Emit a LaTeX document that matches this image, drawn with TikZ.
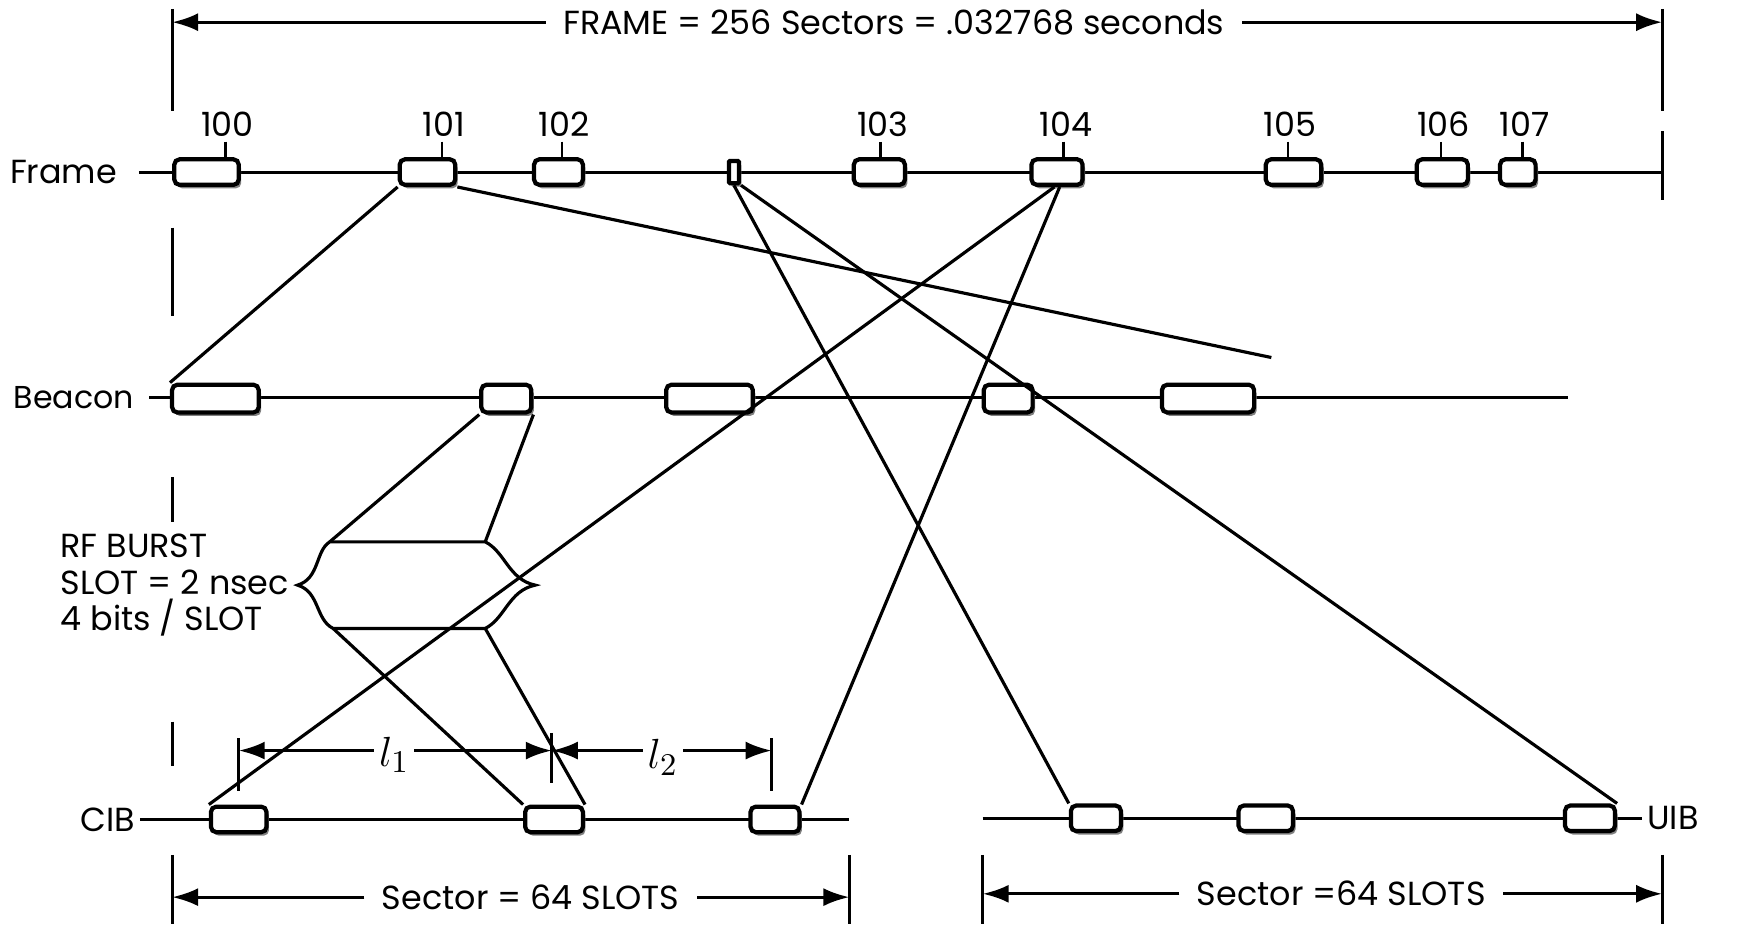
\documentclass[tikz,border=0pt]{standalone}
\usepackage{fontspec}
\setmainfont{Poppins}
\usetikzlibrary{arrows.meta,shadows}
\newcommand{\pxu}{0.11103mm}

\begin{document}
\begin{tikzpicture}[x=0.11103mm, y=-0.11103mm, line width=0.9pt, >={Latex[length=2.6mm,width=1.8mm]},
  font=\fontsize{9.5}{10.4}\selectfont,
  slotbox/.style={draw, line width=1.2pt, rounded corners=1.5pt, fill=white, inner sep=0pt, minimum width=#1*\pxu, minimum height=23*\pxu,
    drop shadow={opacity=1, shadow xshift=0.25mm, shadow yshift=-0.35mm}},
  tag/.style={inner sep=1pt},
  dimtxt/.style={inner xsep=1.6mm}]
\useasboundingbox (0,0) rectangle (1568,838);
% frame length
\node[dimtxt] (frametitle) at (805,20) {FRAME = 256 Sectors = .032768 seconds};
\coordinate (topL) at (155,20);
\coordinate (topR) at (1497,20);
\draw (155,8) -- (155,100);
\draw (1497,8) -- (1497,100);
\draw (1497,118) -- (1497,180);
\draw[->] (frametitle.west) -- (topL);
\draw[->] (frametitle.east) -- (topR);
\foreach \ya/\yb in {205/285, 430/470, 650/690}{ \draw (155,\ya) -- (155,\yb); }
% time lines
\node[anchor=east, tag] (frm) at (110,155) {Frame};
\node[anchor=west, tag, font=\fontsize{9}{10}\selectfont] (bcn) at (8,358) {Beacon};
\node[anchor=east, tag] (cib) at (126,738) {CIB};
\node[anchor=west, tag] (uib) at (1479,737) {UIB};
\coordinate (frmA) at (125,155);
\coordinate (frmB) at (1497,155);
\coordinate (bcnB) at (1412,358);
\coordinate (cibB) at (765,738);
\coordinate (uibA) at (885,737);
\draw (frmA) -- (frmB);
\draw ([xshift=1mm]bcn.east) -- (bcnB);
\draw (cib.east) -- (cibB);
\draw (uibA) -- (uib.west);
% rf burst
\coordinate (rfTL) at (297,488);
\coordinate (rfTR) at (437,488);
\coordinate (rfBL) at (300,566);
\coordinate (rfBR) at (437,566);
\coordinate (rfL) at (268,527);
\coordinate (rfR) at (482,527);
\draw (rfTL) -- (rfTR) .. controls (455,497) and (458,522) .. (rfR) .. controls (458,532) and (455,557) .. (rfBR)
  -- (rfBL) .. controls (284,558) and (288,533) .. (rfL) .. controls (288,521) and (284,496) .. (rfTL);
\node[anchor=west, align=left, tag] (rftxt) at (50,527) {RF BURST\\SLOT = 2 nsec\\4 bits / SLOT};
\coordinate (tail) at (1145,322);
% slot boxes
\foreach \n/\x/\w/\lx in {100/186/58/205, 101/385/50/400, 102/503/44/508, 103/792/46/795, 104/952/46/960, 105/1165/50/1162, 106/1299/46/1300, 107/1367/32/1373}{
  \node[slotbox=\w] (f\n) at (\x,155) {};
  \node[tag] (l\n) at (\lx,112) {\n};
}
\node[slotbox=9, minimum height=20*\pxu, rounded corners=0.3pt] (fs) at (661,155) {};
\foreach \n/\x/\w in {1/194/78, 2/456/45, 3/639/78, 4/908/44, 5/1088/83}{ \node[slotbox=\w, minimum height=25*\pxu] (b\n) at (\x,359) {}; }
\foreach \n/\x/\w in {1/215/50, 2/499/52, 3/698/44}{ \node[slotbox=\w] (c\n) at (\x,738) {}; }
\foreach \n/\x/\w in {1/987/45, 2/1140/49, 3/1432/45}{ \node[slotbox=\w] (u\n) at (\x,737) {}; }
\foreach \n in {100,...,107}{ \draw[line width=0.7pt] ([xshift=-2*\pxu]l\n.south) -- ([xshift=-2*\pxu]l\n.south |- f\n.north); }
% mapping lines
\draw (f101.south west) -- (b1.north west);
\draw (f101.south east) -- (tail);
\draw (f104.-100) -- (c1.north west);
\draw (f104.-80) -- (c3.north east);
\draw (fs.south) -- (u1.north west);
\draw (fs.south east) -- (u3.north east);
\draw (b2.south west) -- (rfTL);
\draw (b2.south east) -- (rfTR);
\draw (rfBL) -- (c2.north west);
\draw (rfBR) -- (c2.north east);
% slot spacing
\coordinate (tA) at (215,676);
\coordinate (tB) at (497,676);
\coordinate (tC) at (695,676);
\draw (215,665) -- (215,712);
\draw (497,660) -- (497,705);
\draw (695,665) -- (695,712);
\node[tag, font=\fontsize{13}{14}\selectfont] (l1) at (355,680) {$l_1$};
\node[tag, font=\fontsize{13}{14}\selectfont] (l2) at (597,682) {$l_2$};
\draw[->] (l1.west |- tA) -- (tA);
\draw[->] (l1.east |- tA) -- (tB);
\draw[->] (l2.west |- tB) -- (tB);
\draw[->] (l2.east |- tC) -- (tC);
% sector lengths
\node[dimtxt] (sec1) at (478,808) {Sector = 64 SLOTS};
\node[dimtxt] (sec2) at (1208,805) {Sector =64 SLOTS};
\coordinate (sL1) at (155,808);
\coordinate (sR1) at (765,808);
\coordinate (sL2) at (885,805);
\coordinate (sR2) at (1497,805);
\foreach \x in {155,765,885,1497}{ \draw (\x,770) -- (\x,832); }
\draw[->] (sec1.west) -- (sL1);
\draw[->] (sec1.east) -- (sR1);
\draw[->] (sec2.west) -- (sL2);
\draw[->] (sec2.east) -- (sR2);
\end{tikzpicture}
\end{document}
